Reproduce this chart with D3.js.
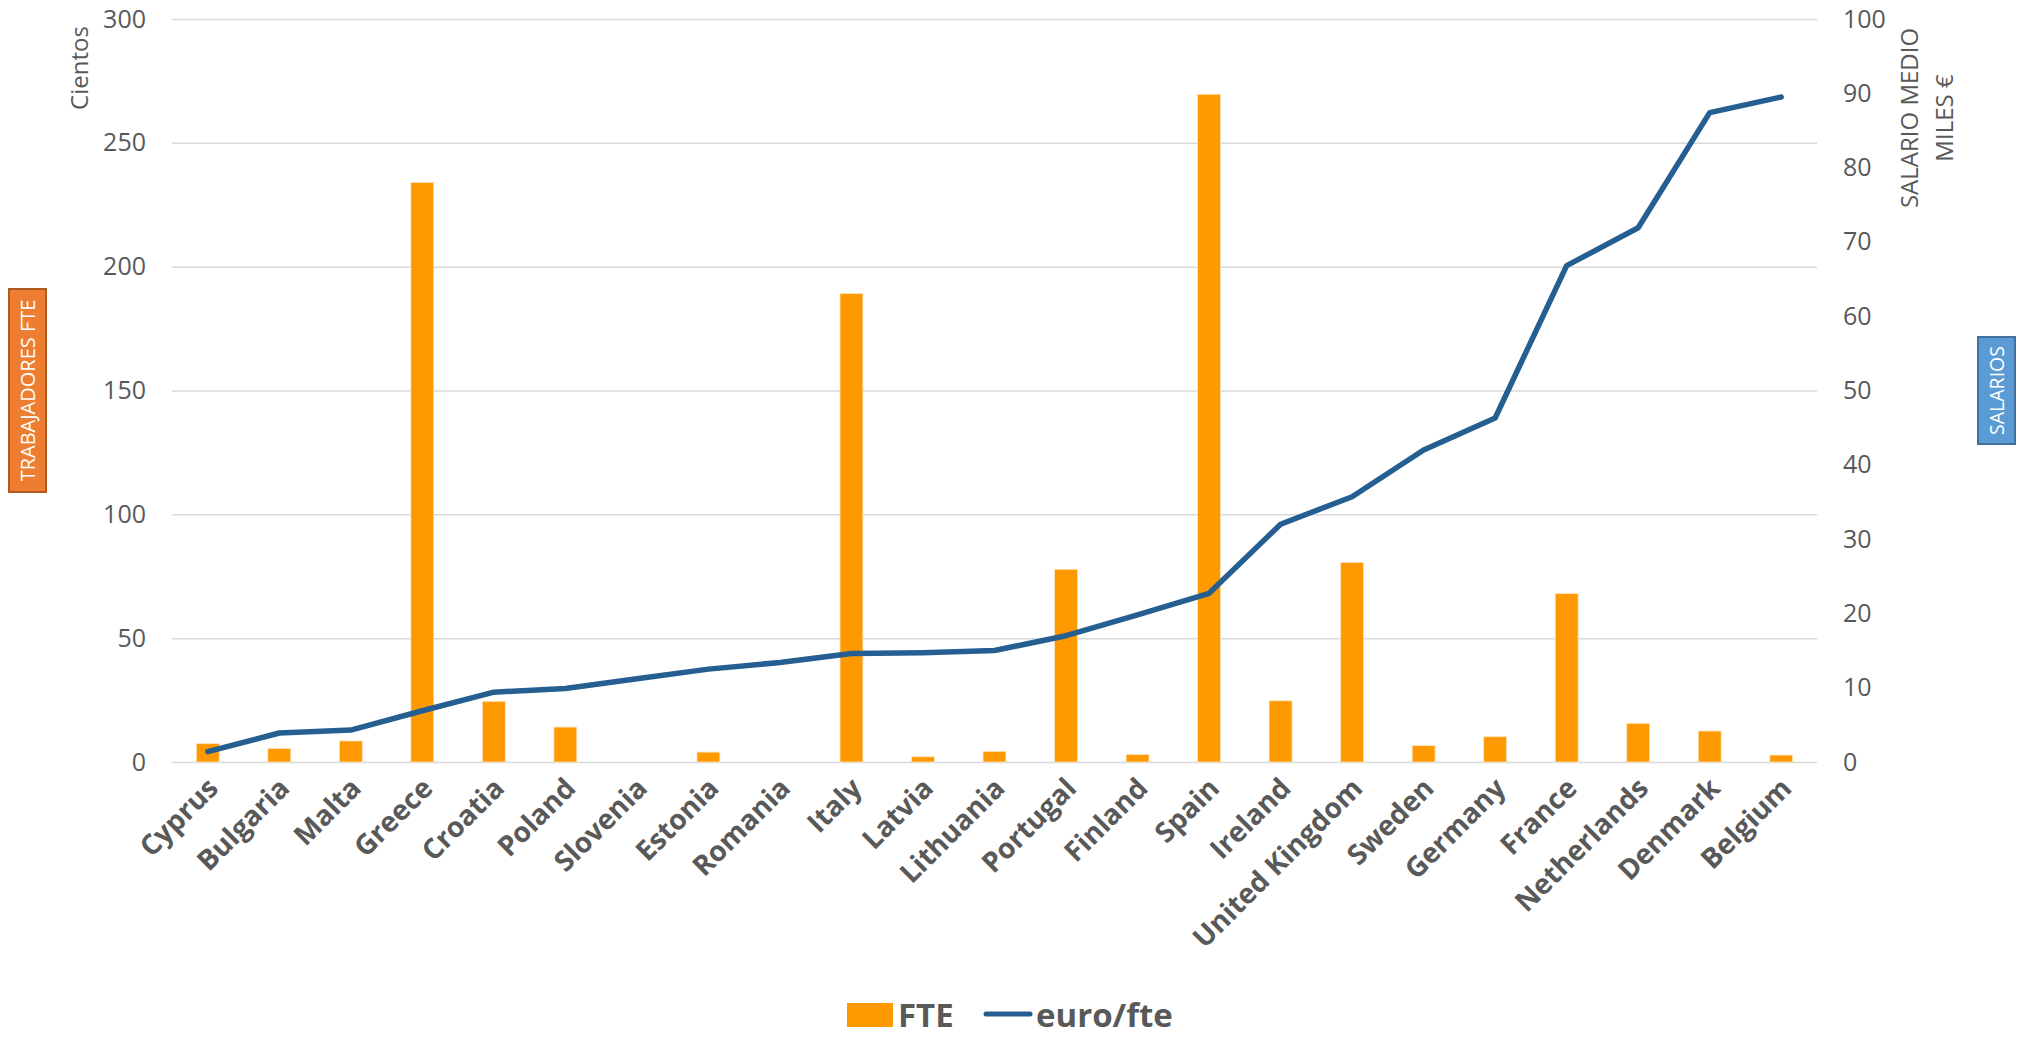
<!DOCTYPE html>
<html>
<head>
<meta charset="utf-8">
<script src="https://cdn.jsdelivr.net/npm/d3@7"></script>
<style>
  body { margin: 0; background: #fff; }
  text { font-family: "Open Sans", "Noto Sans", sans-serif; }
</style>
</head>
<body>
<svg id="chart"></svg>
<script>
// countries, sorted by average salary
const COUNTRIES = ["Cyprus", "Bulgaria", "Malta", "Greece", "Croatia", "Poland", "Slovenia",
    "Estonia", "Romania", "Italy", "Latvia", "Lithuania", "Portugal", "Finland", "Spain",
    "Ireland", "United Kingdom", "Sweden", "Germany", "France", "Netherlands", "Denmark", "Belgium"];

// FTE workers (cientos)
const FTE = [7.4, 5.5, 8.5, 234, 24.5, 14.1, 0, 4.0, 0, 189.2, 2.1, 4.3, 77.8, 3.0, 269.6,
    24.7, 80.6, 6.6, 10.2, 68.0, 15.6, 12.5, 2.8];

// average salary, miles de euro per fte
const EURO_FTE = [1.4, 3.9, 4.3, 6.9, 9.4, 9.9, 11.2, 12.5, 13.4, 14.6, 14.7, 15.0, 17.0, 19.8,
    22.7, 32.0, 35.7, 42.0, 46.3, 66.8, 71.9, 87.4, 89.5];

const LEFT_TICKS = [0, 50, 100, 150, 200, 250, 300];
const RIGHT_TICKS = [0, 10, 20, 30, 40, 50, 60, 70, 80, 90, 100];

const WIDTH = 2022;
const HEIGHT = 1039;
const PLOT = { left: 172, right: 1817, top: 19, bottom: 762 };

const ORANGE = "#ff9900";
const BLUE = "#255e91";
const GREY = "#595959";

const svg = d3.select("#chart")
    .attr("width", WIDTH)
    .attr("height", HEIGHT);

const x = d3.scaleBand()
    .domain(COUNTRIES)
    .range([PLOT.left, PLOT.right])
    .paddingInner(0.68)
    .paddingOuter(0.34);

const yLeft = d3.scaleLinear().domain([0, 300]).range([PLOT.bottom, PLOT.top]);
const yRight = d3.scaleLinear().domain([0, 100]).range([PLOT.bottom, PLOT.top]);

// left axis + gridlines
const leftAxis = svg.append("g")
    .attr("transform", "translate(" + PLOT.left + ",0)")
    .call(d3.axisLeft(yLeft)
        .tickValues(LEFT_TICKS)
        .tickSize(-(PLOT.right - PLOT.left))
        .tickPadding(26));
leftAxis.select(".domain").remove();
leftAxis.selectAll(".tick line")
    .attr("stroke", "#d9d9d9")
    .attr("stroke-width", 1.5);
leftAxis.selectAll(".tick text")
    .attr("fill", GREY)
    .style("font-size", "25px");

// right axis, no lines
const rightAxis = svg.append("g")
    .attr("transform", "translate(" + PLOT.right + ",0)")
    .call(d3.axisRight(yRight)
        .tickValues(RIGHT_TICKS)
        .tickSize(0)
        .tickPadding(26));
rightAxis.select(".domain").remove();
rightAxis.selectAll(".tick text")
    .attr("fill", GREY)
    .style("font-size", "25px");

// bars
svg.append("g")
    .selectAll("rect")
    .data(FTE)
    .enter()
    .append("rect")
    .attr("x", (d, i) => x(COUNTRIES[i]))
    .attr("y", d => yLeft(d))
    .attr("width", x.bandwidth())
    .attr("height", d => PLOT.bottom - yLeft(d))
    .attr("fill", ORANGE)
    .attr("stroke", "#ffe3b8")
    .attr("stroke-width", 0.8);

// salary line
const line = d3.line()
    .x((d, i) => x(COUNTRIES[i]) + x.bandwidth() / 2)
    .y(d => yRight(d));

svg.append("path")
    .datum(EURO_FTE)
    .attr("d", line)
    .attr("fill", "none")
    .attr("stroke", BLUE)
    .attr("stroke-width", 5.5)
    .attr("stroke-linejoin", "round")
    .attr("stroke-linecap", "round");

// category labels
svg.append("g")
    .selectAll("text")
    .data(COUNTRIES)
    .enter()
    .append("text")
    .attr("transform", d => "translate(" + (x(d) + x.bandwidth() / 2 + 12) + ",790) rotate(-45)")
    .attr("text-anchor", "end")
    .attr("fill", GREY)
    .style("font-size", "28px")
    .style("font-weight", "bold")
    .text(d => d);

// axis titles
svg.append("text")
    .attr("transform", "translate(88,68) rotate(-90)")
    .attr("text-anchor", "middle")
    .attr("fill", GREY)
    .style("font-size", "24px")
    .text("Cientos");

const rightTitle = svg.append("text")
    .attr("transform", "translate(1918,118) rotate(-90)")
    .attr("text-anchor", "middle")
    .attr("fill", GREY)
    .style("font-size", "24px");
rightTitle.append("tspan").attr("x", 0).attr("dy", 0).text("SALARIO MEDIO");
rightTitle.append("tspan").attr("x", 0).attr("dy", "1.45em").text("MILES €");

// coloured boxes at the sides
function sideBox(x0, y0, w, h, fill, stroke, label, size) {
    svg.append("rect")
        .attr("x", x0).attr("y", y0)
        .attr("width", w).attr("height", h)
        .attr("fill", fill)
        .attr("stroke", stroke)
        .attr("stroke-width", 2);
    svg.append("text")
        .attr("transform", "translate(" + (x0 + w / 2) + "," + (y0 + h / 2) + ") rotate(-90)")
        .attr("text-anchor", "middle")
        .attr("dy", "0.36em")
        .attr("fill", "#fff")
        .style("font-size", size + "px")
        .text(label);
}
sideBox(9, 289, 37, 203, "#ed7d31", "#ae5a21", "TRABAJADORES FTE", 20);
sideBox(1978, 337, 37, 107, "#5b9bd5", "#41719c", "SALARIOS", 19.5);

// legend
const legend = svg.append("g");
legend.append("rect")
    .attr("x", 847).attr("y", 1003)
    .attr("width", 46).attr("height", 24)
    .attr("fill", ORANGE);
legend.append("text")
    .attr("x", 898).attr("y", 1027)
    .attr("fill", GREY)
    .style("font-size", "33px")
    .style("font-weight", "bold")
    .text("FTE");
legend.append("line")
    .attr("x1", 986).attr("x2", 1030)
    .attr("y1", 1014).attr("y2", 1014)
    .attr("stroke", BLUE)
    .attr("stroke-width", 5)
    .attr("stroke-linecap", "round");
legend.append("text")
    .attr("x", 1036).attr("y", 1027)
    .attr("fill", GREY)
    .style("font-size", "33px")
    .style("font-weight", "bold")
    .text("euro/fte");
</script>
</body>
</html>
